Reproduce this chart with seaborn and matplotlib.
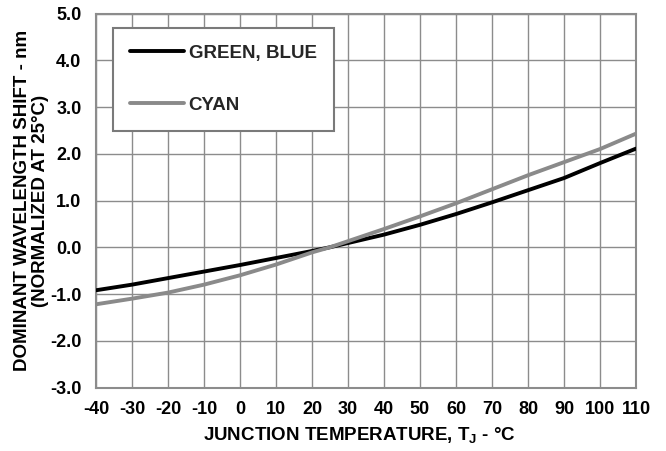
import numpy as np
import pandas as pd
import matplotlib
matplotlib.use("Agg")
import matplotlib.pyplot as plt
from matplotlib.lines import Line2D
import seaborn as sns

# Junction temperature (°C) and dominant wavelength shift (nm, normalized at 25 °C)
temperature = [-40, -30, -20, -10, 0, 10, 20, 25, 30, 40, 50, 60, 70, 80, 90, 100, 110]
shift_green_blue = [-0.92, -0.80, -0.66, -0.52, -0.38, -0.23, -0.08, 0.0, 0.09, 0.27, 0.48, 0.71, 0.96, 1.22, 1.48, 1.80, 2.11]
shift_cyan = [-1.22, -1.10, -0.97, -0.80, -0.60, -0.37, -0.11, 0.0, 0.13, 0.39, 0.66, 0.94, 1.24, 1.54, 1.82, 2.10, 2.43]

series_names = ["GREEN, BLUE", "CYAN"]
x_ticks = list(range(-40, 111, 10))
y_ticks = [-3.0, -2.0, -1.0, 0.0, 1.0, 2.0, 3.0, 4.0, 5.0]

df = pd.concat([
    pd.DataFrame({"T": temperature, "shift": shift_green_blue, "series": series_names[0]}),
    pd.DataFrame({"T": temperature, "shift": shift_cyan, "series": series_names[1]}),
])

sns.set_theme(style="white")
plt.rcParams["font.family"] = ["Liberation Sans", "DejaVu Sans"]
plt.rcParams["font.weight"] = "bold"
plt.rcParams["mathtext.fontset"] = "custom"
plt.rcParams["mathtext.rm"] = "Liberation Sans:bold"
plt.rcParams["mathtext.bf"] = "Liberation Sans:bold"

FS_TICK = 13
FS_LABEL = 13.5

fig = plt.figure(figsize=(6.66, 4.51), dpi=100)
ax = fig.add_axes([96 / 666, 1 - 387.5 / 451, 540 / 666, 374 / 451])

grid_color = "#8c8c8c"
palette = {"GREEN, BLUE": "#000000", "CYAN": "#8a8a8a"}

sns.lineplot(data=df, x="T", y="shift", hue="series", palette=palette,
             linewidth=2.8, ax=ax, legend=False, zorder=3)

ax.set_xlim(-40, 110)
ax.set_ylim(-3.0, 5.0)
ax.set_xticks(x_ticks)
ax.set_yticks(y_ticks)
ax.set_xticklabels([str(t) for t in x_ticks])
ax.set_yticklabels([f"{v:.1f}" for v in y_ticks])
ax.tick_params(axis="y", length=0, labelsize=FS_TICK, pad=10.5)
ax.tick_params(axis="x", length=0, labelsize=FS_TICK, pad=10)
for lab in ax.get_xticklabels() + ax.get_yticklabels():
    lab.set_fontweight("bold")
    lab.set_color("black")

ax.grid(True, color=grid_color, linewidth=1.0)
ax.set_axisbelow(True)
for sp in ax.spines.values():
    sp.set_color(grid_color)
    sp.set_linewidth(1.5)

ax.set_xlabel(r"JUNCTION TEMPERATURE, T$_\mathrm{J}$ - °C", fontsize=FS_LABEL,
              fontweight="bold", color="black")
ax.xaxis.set_label_coords(0.487, -0.103)
ax.set_ylabel("DOMINANT WAVELENGTH SHIFT - nm\n(NORMALIZED AT 25°C)",
              fontsize=FS_LABEL, fontweight="bold", labelpad=1, linespacing=1.05,
              color="black")

handles = [Line2D([], [], color=palette[n], linewidth=2.8) for n in series_names]
leg = ax.legend(handles, series_names, loc="upper left",
                bbox_to_anchor=(16.7 / 540, 1 - 14.5 / 374),
                frameon=True, fancybox=False, framealpha=1,
                edgecolor="#7a7a7a", handlelength=2.9, handletextpad=0.25,
                labelspacing=1.85, borderpad=0.9, borderaxespad=0,
                prop={"family": "Liberation Sans", "weight": "bold", "size": FS_LABEL})
leg.get_frame().set_linewidth(1.5)
leg.set_zorder(5)

fig.savefig("out.png", dpi=100)
